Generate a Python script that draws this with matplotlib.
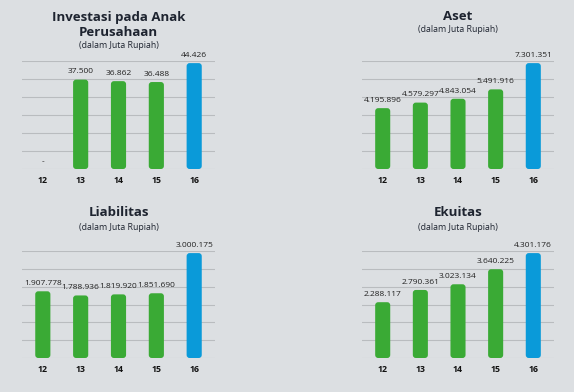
import numpy as np
import matplotlib.pyplot as plt
from matplotlib.patches import FancyBboxPatch

plt.rcParams['font.family'] = ['Open Sans', 'DejaVu Sans']

years = ["12", "13", "14", "15", "16"]
investasi = [0, 37500, 36862, 36488, 44426]
aset = [4195896, 4579297, 4843054, 5491916, 7301351]
liabilitas = [1907778, 1788936, 1819920, 1851690, 3000175]
ekuitas = [2288117, 2790361, 3023134, 3640225, 4301176]

titles = ["Investasi pada Anak\nPerusahaan", "Aset", "Liabilitas", "Ekuitas"]
subtitle = "(dalam Juta Rupiah)"

BG = "#dcdfe2"
GREEN = "#3aaa35"
BLUE = "#0a9ad9"
GRID = "#b9bcbf"

def fmt(v):
    if v == 0:
        return "-"
    return f"{v:,}".replace(",", ".")

def draw(ax, vals, title, title_y, sub_y):
    x = np.arange(len(vals))
    ymax = max(vals) * 1.02
    colors = [GREEN] * (len(vals) - 1) + [BLUE]
    ax.set_xlim(-0.55, 4.55)
    ax.set_ylim(0, ymax)
    bars = ax.bar(x, vals, width=0.4, color=colors, zorder=3)
    # swap plain rectangles for rounded ones
    fig = ax.figure
    bb = ax.get_position()
    wpx = bb.width * fig.get_figwidth() * fig.dpi
    hpx = bb.height * fig.get_figheight() * fig.dpi
    ux = 5.1 / wpx
    uy = ymax / hpx
    for p, c in zip(bars.patches, colors):
        p.set_visible(False)
        if p.get_height() <= 0:
            continue
        fb = FancyBboxPatch((p.get_x(), 0), p.get_width(), p.get_height(),
                            boxstyle=f"round,pad=0,rounding_size={3 * ux}",
                            mutation_aspect=uy / ux, fc=c, ec="none", zorder=3)
        ax.add_patch(fb)
    for i in range(7):
        ax.axhline(ymax * i / 6, color=GRID, lw=0.8, zorder=1)
    for xi, v in zip(x, vals):
        ax.annotate(fmt(v), (xi, v), xytext=(0, 3), textcoords="offset points",
                    ha="center", va="bottom", fontsize=6, color="#222222")
    ax.set_xticks(x)
    ax.set_xticklabels(years, fontsize=6.3, fontweight="bold", color="#111111")
    ax.tick_params(axis="x", length=0, pad=5)
    ax.set_yticks([])
    ax.set_facecolor(BG)
    for s in ax.spines.values():
        s.set_visible(False)
    cx = bb.x0 + bb.width / 2
    fig.text(cx, title_y, title, ha="center", va="center", fontsize=9.5,
             fontweight="bold", color="#1e2430", linespacing=1.15)
    fig.text(cx, sub_y, subtitle, ha="center", va="center", fontsize=6.3,
             color="#1e2430")

fig = plt.figure(figsize=(5.74, 3.92), dpi=100)
fig.patch.set_facecolor(BG)

H = 392.0
W = 574.0
ax1 = fig.add_axes([22 / W, 1 - 169 / H, 193 / W, 108 / H])
ax2 = fig.add_axes([362 / W, 1 - 169 / H, 192 / W, 108 / H])
ax3 = fig.add_axes([22 / W, 1 - 358 / H, 193 / W, 107 / H])
ax4 = fig.add_axes([362 / W, 1 - 358 / H, 192 / W, 107 / H])

draw(ax1, investasi, titles[0], 1 - 25 / H, 1 - 46 / H)
draw(ax2, aset, titles[1], 1 - 17 / H, 1 - 29 / H)
draw(ax3, liabilitas, titles[2], 1 - 213 / H, 1 - 228 / H)
draw(ax4, ekuitas, titles[3], 1 - 213 / H, 1 - 228 / H)

fig.savefig("out.png", dpi=100, facecolor=BG)
